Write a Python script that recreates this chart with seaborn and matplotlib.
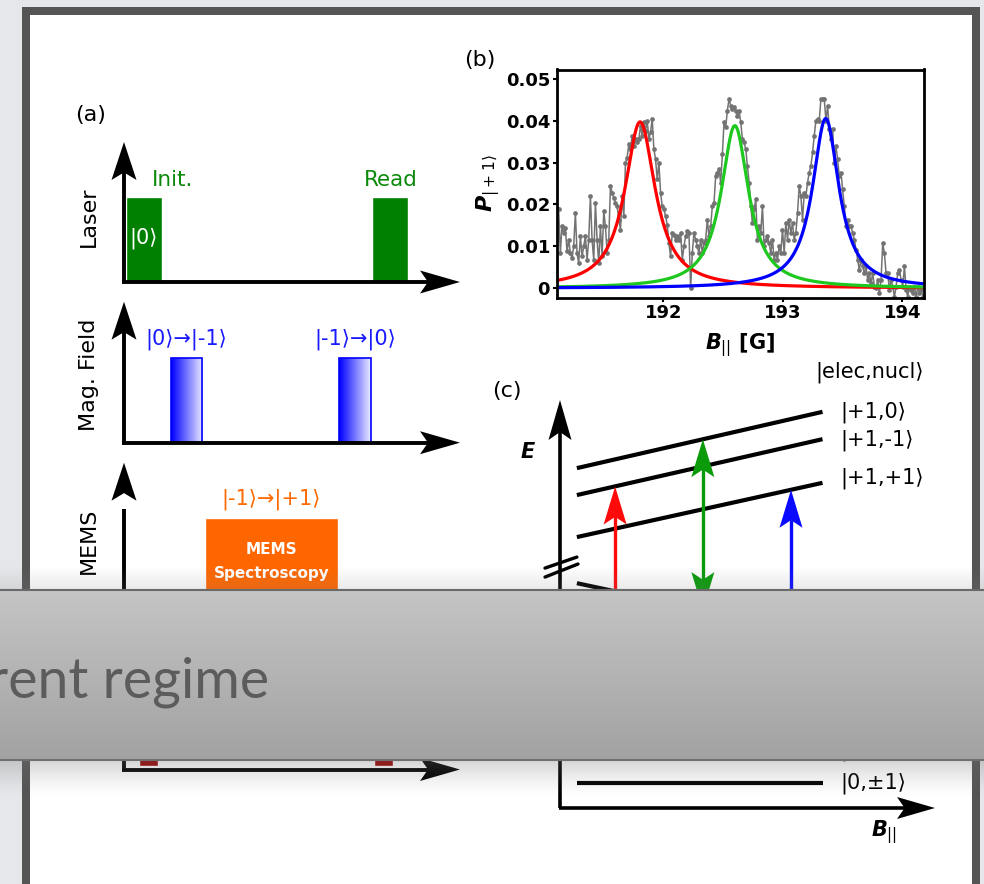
import numpy as np
import pandas as pd
import matplotlib
matplotlib.use('Agg')
import matplotlib.pyplot as plt
import seaborn as sns
from matplotlib.patches import Rectangle, Polygon
from matplotlib.transforms import IdentityTransform
from matplotlib.colors import to_rgb

# ---------------- panel (b): P(|+1>) against field
b_start, b_stop = 191.11, 194.17
p_meas = [0.0192, 0.0188, 0.0084, 0.0148, 0.0132, 0.0144, 0.0088, 0.0116, 0.0084, 0.0072,
          0.0100, 0.0180, 0.0084, 0.0060, 0.0124, 0.0076, 0.0100, 0.0124, 0.0068, 0.0116,
          0.0220, 0.0116, 0.0068, 0.0204, 0.0116, 0.0060, 0.0148, 0.0076, 0.0184, 0.0148,
          0.0084, 0.0116, 0.0244, 0.0228, 0.0216, 0.0204, 0.0196, 0.0164, 0.0140, 0.0220,
          0.0172, 0.0300, 0.0312, 0.0344, 0.0332, 0.0364, 0.0340, 0.0356, 0.0348, 0.0356,
          0.0388, 0.0364, 0.0396, 0.0376, 0.0400, 0.0356, 0.0372, 0.0404, 0.0332, 0.0308,
          0.0260, 0.0300, 0.0228, 0.0196, 0.0188, 0.0172, 0.0152, 0.0108, 0.0076, 0.0132,
          0.0128, 0.0116, 0.0124, 0.0116, 0.0132, 0.0068, 0.0100, 0.0124, 0.0136, 0.0132,
          0.0000, 0.0084, 0.0132, 0.0116, 0.0100, 0.0084, 0.0116, 0.0084, 0.0108, 0.0116,
          0.0164, 0.0124, 0.0148, 0.0196, 0.0204, 0.0268, 0.0276, 0.0284, 0.0252, 0.0320,
          0.0396, 0.0384, 0.0424, 0.0452, 0.0436, 0.0428, 0.0432, 0.0424, 0.0412, 0.0424,
          0.0396, 0.0356, 0.0348, 0.0332, 0.0292, 0.0252, 0.0196, 0.0156, 0.0188, 0.0212,
          0.0116, 0.0148, 0.0132, 0.0196, 0.0100, 0.0116, 0.0124, 0.0108, 0.0084, 0.0116,
          0.0068, 0.0084, 0.0068, 0.0100, 0.0084, 0.0140, 0.0084, 0.0156, 0.0116, 0.0164,
          0.0132, 0.0156, 0.0116, 0.0132, 0.0180, 0.0244, 0.0220, 0.0164, 0.0228, 0.0220,
          0.0252, 0.0276, 0.0292, 0.0324, 0.0364, 0.0400, 0.0404, 0.0400, 0.0452, 0.0452,
          0.0452, 0.0400, 0.0436, 0.0380, 0.0356, 0.0380, 0.0300, 0.0340, 0.0308, 0.0268,
          0.0276, 0.0236, 0.0196, 0.0148, 0.0164, 0.0148, 0.0148, 0.0132, 0.0116, 0.0092,
          0.0068, 0.0044, 0.0068, 0.0052, 0.0036, 0.0052, 0.0020, 0.0036, 0.0012, 0.0036,
          0.0004, 0.0000, 0.0020, -0.0012, 0.0020, 0.0108, 0.0084, 0.0036, 0.0036, -0.0004,
          0.0020, 0.0004, -0.0020, 0.0004, 0.0036, 0.0044, 0.0020, 0.0004, 0.0052, -0.0004,
          -0.0020, 0.0004, -0.0004, -0.0012, 0.0004, -0.0020, 0.0004, -0.0012, -0.0004, -0.0020]
# Lorentzian fits: centre [G], height, half width [G]
fit_names = ['red', 'green', 'blue']
fit_centre = [191.805, 192.598, 193.358]
fit_height = [0.0397, 0.0388, 0.0405]
fit_hwhm = [0.155, 0.14, 0.135]
fit_colors = ['#ff0000', '#1ec81e', '#0000ff']
b_ticks = [192, 193, 194]
p_ticks = [0, 0.01, 0.02, 0.03, 0.04, 0.05]
p_ticklabels = ['0', '0.01', '0.02', '0.03', '0.04', '0.05']

# ---------------- panel (a): pulse sequence, time in arbitrary units 0..10
laser_start = [0.06, 7.38]
laser_width = [1.07, 1.07]
laser_height = 0.61
mw_start = [1.40, 6.40]
mw_width = [0.93, 0.95]
mw_height = 0.60
mw_labels = ['|0⟩→|-1⟩', '|-1⟩→|0⟩']
mems_start = [2.41]
mems_width = [3.96]
mems_bottom = 0.1
mems_top = 0.82
count_start = [0.45, 7.44]
count_width = [0.56, 0.56]
count_bottom = 0.01
count_height = 0.14

# ---------------- panel (c): level scheme, B and E in arbitrary units 0..10
level_labels = ['|+1,0⟩', '|+1,-1⟩', '|+1,+1⟩', '|-1,0⟩', '|-1,+1⟩', '|-1,-1⟩', '|0,0⟩', '|0,±1⟩']
level_b = [0.45, 7.0]
level_e0 = [8.33, 7.67, 6.64, 5.51, 4.95, 4.35, 1.42, 0.61]
level_e1 = [9.71, 9.04, 7.97, 4.23, 3.67, 3.07, 1.42, 0.61]
level_label_e = [9.71, 9.02, 8.09, 4.23, 3.67, 3.07, 1.42, 0.61]
trans_b = [1.47, 3.81, 6.16]
trans_lo = [3.2, 4.85, 3.2]
trans_hi = [7.88, 9.04, 7.80]
trans_colors = ['#ff0a0a', '#0a9a0a', '#0a0aff']
trans_both = [False, True, False]

sns.set_theme(style='white')
plt.rcParams['font.family'] = ['DejaVu Sans']
plt.rcParams['text.color'] = 'black'
plt.rcParams['mathtext.fontset'] = 'custom'
plt.rcParams['mathtext.it'] = 'DejaVu Sans:italic:bold'
plt.rcParams['mathtext.rm'] = 'DejaVu Sans'
plt.rcParams['mathtext.bf'] = 'DejaVu Sans:bold'

W, H = 984, 884
fig = plt.figure(figsize=(W / 100, H / 100), dpi=100)
fig.patch.set_facecolor('#e6e7ea')


def px_axes(x0, y0, x1, y1, z=2):
    ax = fig.add_axes([x0 / W, 1 - y1 / H, (x1 - x0) / W, (y1 - y0) / H], zorder=z)
    ax.patch.set_alpha(0)
    return ax


def stealth(ax, x, y, direction, length, width, color, notch=0.2):
    # arrow head drawn in pixels, tip at data point (x, y)
    tx, ty = ax.transData.transform((x, y))
    dx, dy = {'up': (0, 1), 'down': (0, -1), 'right': (1, 0)}[direction]
    px, py = -dy, dx
    bx, by = tx - dx * length, ty - dy * length
    nx, ny = tx - dx * length * (1 - notch), ty - dy * length * (1 - notch)
    pts = [(tx, ty), (bx + px * width / 2, by + py * width / 2), (nx, ny),
           (bx - px * width / 2, by - py * width / 2)]
    ax.add_patch(Polygon(pts, closed=True, facecolor=color, edgecolor='none',
                         transform=IdentityTransform(), zorder=6, clip_on=False))


# background slide and card
bg = fig.add_axes([0, 0, 1, 1], zorder=0)
bg.set_xlim(0, W)
bg.set_ylim(H, 0)
bg.axis('off')
bg.add_patch(Rectangle((22, 7), 958, 900, facecolor='#555555', edgecolor='none'))
bg.add_patch(Rectangle((30, 15), 942, 900, facecolor='white', edgecolor='none'))
bg.text(91, 115, '(a)', fontsize=16, ha='center', va='center')
bg.text(480, 60, '(b)', fontsize=16, ha='center', va='center')
bg.text(507, 391, '(c)', fontsize=16, ha='center', va='center')

# ---------------- panel (a)
channels = [('Laser', 282, 142, 0.464), ('Mag. Field', 442.7, 301.7, 0.48), ('MEMS', 769.5, 462.7, 0.744)]
chan_axes = []
for name, y_axis, y_tip, ly in channels:
    ax = px_axes(124, y_tip, 460, y_axis)
    ax.set_xlim(0, 10)
    ax.set_ylim(0, 1)
    ax.axis('off')
    ax.plot([-0.06, 9.5], [0, 0], color='black', lw=2.8, solid_capstyle='butt', clip_on=False, zorder=5)
    ax.plot([0, 0], [0, 0.85], color='black', lw=2.8, solid_capstyle='butt', clip_on=False, zorder=5)
    stealth(ax, 10, 0, 'right', 40, 23, 'black')
    stealth(ax, 0, 1, 'up', 38, 25, 'black')
    ax.text(-0.104, ly, name, rotation=90, transform=ax.transAxes, ha='center', va='center', fontsize=16)
    chan_axes.append(ax)

ax_l, ax_m, ax_s = chan_axes
ax_l.bar(laser_start, laser_height, width=laser_width, align='edge', color='#008000', zorder=3)
ax_l.text(0.83, 0.73, 'Init.', color='#0c8a0c', fontsize=15.5, ha='left', va='center')
ax_l.text(7.95, 0.73, 'Read', color='#0c8a0c', fontsize=15.5, ha='center', va='center')
ax_l.text(0.58, 0.31, '|0⟩', color='white', fontsize=15, ha='center', va='center', zorder=4)

grad = np.linspace(0, 1, 64)[:, None]
blue_img = np.array(to_rgb('#0000ff')) * (1 - grad) + np.array(to_rgb('#eaeaff')) * grad
for s, w, lab in zip(mw_start, mw_width, mw_labels):
    ax_m.imshow(blue_img[None, :, :], extent=(s, s + w, 0, mw_height), aspect='auto',
                interpolation='bilinear', zorder=3)
    ax_m.text(s + w / 2, 0.735, lab, color='#1a1aff', fontsize=15, ha='center', va='center')
ax_m.bar(mw_start, mw_height, width=mw_width, align='edge', facecolor='none', edgecolor='#0000ff',
         lw=1.2, zorder=4)
ax_m.set_xlim(0, 10)
ax_m.set_ylim(0, 1)

ax_s.bar(mems_start, mems_top - mems_bottom, width=mems_width, bottom=mems_bottom, align='edge',
         color='#ff6600', zorder=3)
ax_s.bar(count_start, count_height, width=count_width, bottom=count_bottom, align='edge',
         color='#990000', zorder=3)
mems_mid = mems_start[0] + mems_width[0] / 2
ax_s.text(mems_mid, 0.881, '|-1⟩→|+1⟩', color='#ff6a00', fontsize=15, ha='center', va='center')
ax_s.text(mems_mid, 0.717, 'MEMS', color='white', fontsize=11, fontweight='bold', ha='center', va='center', zorder=4)
ax_s.text(mems_mid, 0.639, 'Spectroscopy', color='white', fontsize=11, fontweight='bold', ha='center',
          va='center', zorder=4)

# ---------------- panel (b)
axb = px_axes(557, 69.5, 924, 297.5, 3)
axb.patch.set_alpha(1)
axb.set_facecolor('white')
field = np.linspace(b_start, b_stop, len(p_meas))
meas = pd.DataFrame({'B': field, 'P': p_meas})
sns.lineplot(data=meas, x='B', y='P', ax=axb, color='#737373', lw=1.1, marker='o', markersize=3.4,
             markeredgewidth=0, estimator=None, sort=False)
b_fine = np.linspace(b_start, b_stop, 800)
fits = pd.concat([pd.DataFrame({'B': b_fine, 'P': h * w ** 2 / ((b_fine - c) ** 2 + w ** 2), 'peak': n})
                  for n, c, h, w in zip(fit_names, fit_centre, fit_height, fit_hwhm)])
sns.lineplot(data=fits, x='B', y='P', hue='peak', hue_order=fit_names,
             palette=dict(zip(fit_names, fit_colors)), lw=2.3, legend=False, estimator=None, ax=axb)
axb.set_xlim(191.11, 194.18)
axb.set_ylim(-0.0022, 0.0522)
axb.set_xticks(b_ticks)
axb.set_xticklabels([str(t) for t in b_ticks], fontsize=13, fontweight='bold', color='black')
axb.set_yticks(p_ticks)
axb.set_yticklabels(p_ticklabels, fontsize=13, fontweight='bold', color='black')
axb.tick_params(bottom=True, left=True, direction='out', length=3, width=1.5, pad=2, colors='black')
for sp in axb.spines.values():
    sp.set_visible(True)
    sp.set_color('black')
    sp.set_linewidth(2)
axb.set_xlabel('')
axb.set_ylabel('')
axb.text(0.499, -0.21, r'$B_{||}$ [G]', transform=axb.transAxes, ha='center', va='center',
         fontsize=15, fontweight='bold')
axb.text(-0.187, 0.502, r'$P_{|+1\rangle}$', transform=axb.transAxes, ha='center', va='center',
         fontsize=16, rotation=90)

# ---------------- panel (c)
axc = px_axes(560, 400, 935, 808)
axc.set_xlim(0, 10)
axc.set_ylim(0, 10)
axc.axis('off')
axc.plot([-0.04, 9.5], [0, 0], color='black', lw=2.6, solid_capstyle='butt', clip_on=False, zorder=5)
axc.plot([0, 0], [0, 9.5], color='black', lw=2.6, solid_capstyle='butt', clip_on=False, zorder=5)
stealth(axc, 10, 0, 'right', 38, 22, 'black')
stealth(axc, 0, 10, 'up', 40, 23, 'black')
axc.plot([-0.4, 0.45], [5.88, 6.15], color='black', lw=2.4, clip_on=False, zorder=5)
axc.plot([-0.4, 0.48], [5.66, 5.98], color='black', lw=2.4, clip_on=False, zorder=5)
for lab, e0, e1, le in zip(level_labels, level_e0, level_e1, level_label_e):
    axc.plot(level_b, [e0, e1], color='black', lw=3, solid_capstyle='butt', zorder=4)
    axc.text(7.47, le, lab, fontsize=15, ha='left', va='center')
axc.text(8.27, 10.69, '|elec,nucl⟩', fontsize=15, ha='center', va='center', clip_on=False)
axc.text(-0.85, 8.73, 'E', fontsize=15, fontweight='bold', style='italic', ha='center', va='center')
axc.text(8.64, -0.59, r'$B_{||}$', fontsize=15, ha='center', va='center')
for b, lo, hi, col, both in zip(trans_b, trans_lo, trans_hi, trans_colors, trans_both):
    axc.plot([b, b], [lo + (0.5 if both else 0), hi - 0.5], color=col, lw=2.4, zorder=5)
    stealth(axc, b, hi, 'up', 38, 23, col)
    if both:
        stealth(axc, b, lo, 'down', 38, 23, col)

# ---------------- slide banner laid over the figure
ov = fig.add_axes([0, 0, 1, 1], zorder=10)
ov.patch.set_alpha(0)
band = np.linspace(0, 1, 100)[:, None, None]
banner = np.array(to_rgb('#c5c5c5')) * (1 - band) + np.array(to_rgb('#a2a2a2')) * band
ov.imshow(banner, extent=(0, W, 760, 589), aspect='auto', interpolation='bilinear')
shade_up = np.zeros((50, 1, 4))
shade_up[..., :3] = 0.5
shade_up[..., 3] = np.linspace(0, 0.16, 50)[:, None]
ov.imshow(shade_up, extent=(0, W, 589, 566), aspect='auto', interpolation='bilinear')
shade_dn = np.zeros((50, 1, 4))
shade_dn[..., :3] = 0.45
shade_dn[..., 3] = np.linspace(0.42, 0, 50)[:, None] ** 1.4
ov.imshow(shade_dn, extent=(0, W, 798, 760), aspect='auto', interpolation='bilinear')
ov.plot([0, W], [589.8, 589.8], color='#6a6a6a', lw=1.5)
ov.plot([0, W], [759.5, 759.5], color='#707070', lw=1.5)
ov.text(269, 697, 'rent regime', ha='right', va='baseline', fontsize=40, color='#5c5c5c',
        family=['Lato', 'DejaVu Sans'])
ov.set_xlim(0, W)
ov.set_ylim(H, 0)
ov.axis('off')

fig.savefig('out.png', dpi=100, facecolor=fig.get_facecolor())
